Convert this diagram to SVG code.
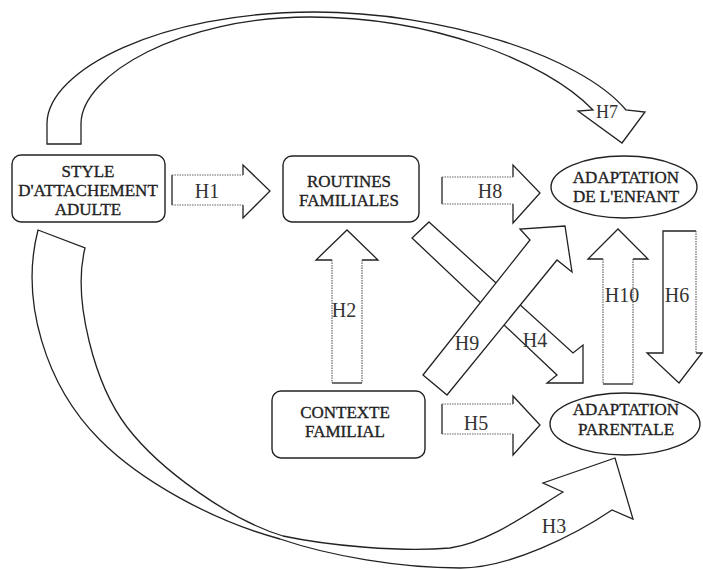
<svg xmlns="http://www.w3.org/2000/svg" width="703" height="569" viewBox="0 0 703 569">
<style>
.box{fill:#fff;stroke:#222;stroke-width:1.4}
.arr{fill:#fff;stroke:#222;stroke-width:1.3;stroke-linejoin:miter}
.fill{fill:#fff;stroke:none}
.edge{fill:none;stroke:#222;stroke-width:1.3;stroke-linejoin:miter}
.dot{fill:none;stroke:#666;stroke-width:1.2;stroke-dasharray:1.5 1}
.t{font-family:"Liberation Serif","Times New Roman",serif;font-size:17px;fill:#222;stroke:#222;stroke-width:0.35;text-anchor:middle}
.h{font-family:"Liberation Serif","Times New Roman",serif;font-size:20px;fill:#333;text-anchor:middle}
</style>
<rect width="703" height="569" fill="#fff"/>
<g id="connectors">
  <g id="H7">
    <path class="arr" d="M47,144 L47,123 C48,70 160,12 314,12 C440,12 580,55 626,110 L645,112 L622,143 L578,111 L593,110 C545,60 430,17 310,17 C180,17 82,75 81,123 L81,144 Z"/>
    <text class="h" x="607" y="118" style="font-size:18px">H7</text>
  </g>
  <g id="H3">
    <path class="arr" d="M38,230 C20,300 45,385 100,440 C140,480 210,520 280,539 C330,556 400,568 460,568 C510,568 575,535 612,510 L633,519 L615,458 L543,483 L563,492 C530,512 490,542 450,548 C400,552 330,546 283,536 C230,520 160,470 127,427 C95,385 72,300 85,248 Z"/>
    <text class="h" x="554" y="533">H3</text>
  </g>
  <g id="H1">
    <polygon class="fill" points="172,175 243,175 243,165 270,191 243,218 243,205 172,205"/>
    <polyline class="edge" points="243,175 243,165 270,191 243,218 243,205"/>
    <line class="edge" x1="172" y1="175" x2="172" y2="205"/>
    <line class="dot" x1="172" y1="175" x2="243" y2="175"/>
    <line class="dot" x1="172" y1="205" x2="243" y2="205"/>
    <text class="h" x="207" y="198">H1</text>
  </g>
  <g id="H8">
    <polygon class="fill" points="442,177 513,177 513,165 540,193 513,223 513,204 442,204"/>
    <polyline class="edge" points="513,177 513,165 540,193 513,223 513,204"/>
    <line class="edge" x1="442" y1="177" x2="442" y2="204"/>
    <line class="dot" x1="442" y1="177" x2="513" y2="177"/>
    <line class="dot" x1="442" y1="204" x2="513" y2="204"/>
    <text class="h" x="490" y="198">H8</text>
  </g>
  <g id="H5">
    <polygon class="fill" points="442,404 513,404 513,396 540,425 513,455 513,434 442,434"/>
    <polyline class="edge" points="513,404 513,396 540,425 513,455 513,434"/>
    <line class="edge" x1="442" y1="404" x2="442" y2="434"/>
    <line class="dot" x1="442" y1="404" x2="513" y2="404"/>
    <line class="dot" x1="442" y1="434" x2="513" y2="434"/>
    <text class="h" x="476" y="430">H5</text>
  </g>
  <g id="H2">
    <polygon class="fill" points="332,383 332,260 316,260 347,230 378,260 362,260 362,383"/>
    <polyline class="edge" points="332,260 316,260 347,230 378,260 362,260"/>
    <line class="edge" x1="332" y1="383" x2="362" y2="383"/>
    <line class="dot" x1="332" y1="260" x2="332" y2="383"/>
    <line class="dot" x1="362" y1="260" x2="362" y2="383"/>
    <text class="h" x="344" y="317">H2</text>
  </g>
  <g id="H10">
    <polygon class="fill" points="603,384 603,259 588,259 618,229 648,259 633,259 633,384"/>
    <polyline class="edge" points="603,259 588,259 618,229 648,259 633,259"/>
    <line class="edge" x1="603" y1="384" x2="633" y2="384"/>
    <line class="dot" x1="603" y1="259" x2="603" y2="384"/>
    <line class="dot" x1="633" y1="259" x2="633" y2="384"/>
    <text class="h" x="622" y="302">H10</text>
  </g>
  <g id="H6">
    <polygon class="fill" points="663,231 696,231 696,353 702,353 679,383 647,353 663,353"/>
    <polyline class="edge" points="696,353 702,353 679,383 647,353 663,353 663,231 696,231"/>
    <line class="dot" x1="696" y1="231" x2="696" y2="353"/>
    <text class="h" x="677" y="302">H6</text>
  </g>
  <g id="H4">
    <polygon class="arr" points="429,222 573,353 583,345 583,383 547,383 557,375 412,238"/>
    <text class="h" x="535" y="347">H4</text>
  </g>
  <g id="H9">
    <polygon class="arr" points="423,375 447,395 557,260 572,272 565,226 520,229 530,240"/>
    <text class="h" x="467" y="350">H9</text>
  </g>
</g>
<g id="node-style">
  <rect class="box" x="12" y="155" width="153" height="67" rx="9"/>
  <text class="t" x="88" y="177">STYLE</text>
  <text class="t" x="88" y="196">D'ATTACHEMENT</text>
  <text class="t" x="88" y="215">ADULTE</text>
</g>
<g id="node-routines">
  <rect class="box" x="283" y="156" width="136" height="66" rx="9"/>
  <text class="t" x="349" y="187">ROUTINES</text>
  <text class="t" x="349" y="206">FAMILIALES</text>
</g>
<g id="node-contexte">
  <rect class="box" x="272" y="391" width="153" height="67" rx="9"/>
  <text class="t" x="345" y="418">CONTEXTE</text>
  <text class="t" x="345" y="437">FAMILIAL</text>
</g>
<g id="node-enfant">
  <ellipse class="box" cx="624" cy="187" rx="73" ry="31"/>
  <text class="t" x="626" y="183">ADAPTATION</text>
  <text class="t" x="626" y="202">DE L'ENFANT</text>
</g>
<g id="node-parentale">
  <ellipse class="box" cx="625" cy="424" rx="75" ry="31"/>
  <text class="t" x="626" y="415">ADAPTATION</text>
  <text class="t" x="626" y="435">PARENTALE</text>
</g>
</svg>
